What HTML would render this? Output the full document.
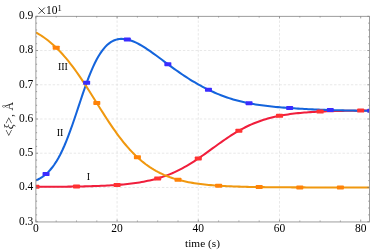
<!DOCTYPE html>
<html><head><meta charset="utf-8"><title>plot</title>
<style>html,body{margin:0;padding:0;background:#fff;}body{width:374px;height:252px;position:relative;overflow:hidden;font-family:"Liberation Serif",serif;}</style>
</head><body>
<svg width="374" height="252" viewBox="0 0 374 252" style="position:absolute;left:0;top:0;will-change:transform">
<g stroke="#dedede" stroke-width="0.7" stroke-dasharray="2.4,1.8" fill="none"><line x1="117.10" y1="16.3" x2="117.10" y2="221.7"/><line x1="198.30" y1="16.3" x2="198.30" y2="221.7"/><line x1="279.50" y1="16.3" x2="279.50" y2="221.7"/><line x1="35.9" y1="187.47" x2="369.4" y2="187.47"/><line x1="35.9" y1="153.23" x2="369.4" y2="153.23"/><line x1="35.9" y1="119.00" x2="369.4" y2="119.00"/><line x1="35.9" y1="84.77" x2="369.4" y2="84.77"/><line x1="35.9" y1="50.53" x2="369.4" y2="50.53"/></g>
<clipPath id="c"><rect x="35.9" y="16.3" width="333.5" height="205.39999999999998"/></clipPath>
<g clip-path="url(#c)">
<path d="M35.90,186.86 L37.93,186.85 L39.97,186.84 L42.00,186.83 L44.03,186.83 L46.07,186.82 L48.10,186.80 L50.13,186.79 L52.17,186.78 L54.20,186.77 L56.24,186.75 L58.27,186.73 L60.30,186.72 L62.34,186.70 L64.37,186.68 L66.40,186.65 L68.44,186.63 L70.47,186.61 L72.50,186.58 L74.54,186.55 L76.57,186.51 L78.60,186.48 L80.64,186.44 L82.67,186.40 L84.70,186.36 L86.74,186.31 L88.77,186.26 L90.81,186.20 L92.84,186.14 L94.87,186.08 L96.91,186.01 L98.94,185.93 L100.97,185.85 L103.01,185.77 L105.04,185.67 L107.07,185.57 L109.11,185.46 L111.14,185.35 L113.17,185.22 L115.21,185.08 L117.24,184.94 L119.28,184.78 L121.31,184.61 L123.34,184.43 L125.38,184.23 L127.41,184.02 L129.44,183.80 L131.48,183.55 L133.51,183.29 L135.54,183.01 L137.58,182.71 L139.61,182.39 L141.64,182.05 L143.68,181.68 L145.71,181.29 L147.74,180.87 L149.78,180.42 L151.81,179.95 L153.85,179.44 L155.88,178.90 L157.91,178.32 L159.95,177.71 L161.98,177.07 L164.01,176.38 L166.05,175.66 L168.08,174.89 L170.11,174.08 L172.15,173.24 L174.18,172.34 L176.21,171.41 L178.25,170.43 L180.28,169.40 L182.31,168.33 L184.35,167.22 L186.38,166.07 L188.42,164.87 L190.45,163.64 L192.48,162.36 L194.52,161.05 L196.55,159.71 L198.58,158.34 L200.62,156.94 L202.65,155.52 L204.68,154.07 L206.72,152.62 L208.75,151.14 L210.78,149.67 L212.82,148.19 L214.85,146.71 L216.88,145.23 L218.92,143.77 L220.95,142.32 L222.99,140.89 L225.02,139.48 L227.05,138.10 L229.09,136.74 L231.12,135.42 L233.15,134.13 L235.19,132.88 L237.22,131.67 L239.25,130.50 L241.29,129.37 L243.32,128.29 L245.35,127.25 L247.39,126.25 L249.42,125.30 L251.45,124.39 L253.49,123.52 L255.52,122.70 L257.56,121.92 L259.59,121.18 L261.62,120.48 L263.66,119.82 L265.69,119.19 L267.72,118.61 L269.76,118.05 L271.79,117.53 L273.82,117.04 L275.86,116.59 L277.89,116.16 L279.92,115.75 L281.96,115.38 L283.99,115.03 L286.02,114.70 L288.06,114.39 L290.09,114.10 L292.13,113.84 L294.16,113.59 L296.19,113.35 L298.23,113.14 L300.26,112.94 L302.29,112.75 L304.33,112.57 L306.36,112.41 L308.39,112.26 L310.43,112.12 L312.46,111.99 L314.49,111.87 L316.53,111.76 L318.56,111.66 L320.60,111.56 L322.63,111.47 L324.66,111.39 L326.70,111.31 L328.73,111.24 L330.76,111.17 L332.80,111.11 L334.83,111.05 L336.86,111.00 L338.90,110.95 L340.93,110.91 L342.96,110.87 L345.00,110.83 L347.03,110.79 L349.06,110.76 L351.10,110.73 L353.13,110.70 L355.17,110.67 L357.20,110.65 L359.23,110.62 L361.27,110.60 L363.30,110.58 L365.33,110.56 L367.37,110.55 L369.40,110.53" fill="none" stroke="#f01e3c" stroke-width="2.05" stroke-linejoin="round"/>
<path d="M35.90,180.42 L37.93,179.50 L39.97,178.42 L42.00,177.17 L44.03,175.72 L46.07,174.05 L48.10,172.15 L50.13,169.98 L52.17,167.52 L54.20,164.76 L56.24,161.67 L58.27,158.23 L60.30,154.44 L62.34,150.28 L64.37,145.76 L66.40,140.89 L68.44,135.70 L70.47,130.21 L72.50,124.47 L74.54,118.53 L76.57,112.46 L78.60,106.33 L80.64,100.20 L82.67,94.16 L84.70,88.27 L86.74,82.60 L88.77,77.20 L90.81,72.11 L92.84,67.38 L94.87,63.03 L96.91,59.07 L98.94,55.50 L100.97,52.33 L103.01,49.55 L105.04,47.14 L107.07,45.08 L109.11,43.35 L111.14,41.94 L113.17,40.82 L115.21,39.98 L117.24,39.38 L119.28,39.02 L121.31,38.87 L123.34,38.91 L125.38,39.13 L127.41,39.52 L129.44,40.05 L131.48,40.72 L133.51,41.50 L135.54,42.40 L137.58,43.40 L139.61,44.49 L141.64,45.65 L143.68,46.88 L145.71,48.18 L147.74,49.52 L149.78,50.91 L151.81,52.34 L153.85,53.79 L155.88,55.27 L157.91,56.77 L159.95,58.28 L161.98,59.80 L164.01,61.31 L166.05,62.83 L168.08,64.34 L170.11,65.84 L172.15,67.33 L174.18,68.80 L176.21,70.26 L178.25,71.69 L180.28,73.10 L182.31,74.49 L184.35,75.85 L186.38,77.18 L188.42,78.49 L190.45,79.76 L192.48,81.01 L194.52,82.23 L196.55,83.42 L198.58,84.57 L200.62,85.70 L202.65,86.79 L204.68,87.85 L206.72,88.89 L208.75,89.89 L210.78,90.85 L212.82,91.79 L214.85,92.69 L216.88,93.57 L218.92,94.41 L220.95,95.22 L222.99,96.00 L225.02,96.74 L227.05,97.46 L229.09,98.14 L231.12,98.79 L233.15,99.42 L235.19,100.01 L237.22,100.57 L239.25,101.11 L241.29,101.61 L243.32,102.09 L245.35,102.54 L247.39,102.97 L249.42,103.37 L251.45,103.75 L253.49,104.10 L255.52,104.44 L257.56,104.75 L259.59,105.05 L261.62,105.33 L263.66,105.60 L265.69,105.85 L267.72,106.09 L269.76,106.31 L271.79,106.53 L273.82,106.73 L275.86,106.92 L277.89,107.11 L279.92,107.29 L281.96,107.46 L283.99,107.62 L286.02,107.78 L288.06,107.93 L290.09,108.08 L292.13,108.22 L294.16,108.35 L296.19,108.48 L298.23,108.61 L300.26,108.73 L302.29,108.84 L304.33,108.96 L306.36,109.06 L308.39,109.17 L310.43,109.27 L312.46,109.36 L314.49,109.45 L316.53,109.54 L318.56,109.63 L320.60,109.71 L322.63,109.78 L324.66,109.86 L326.70,109.93 L328.73,109.99 L330.76,110.06 L332.80,110.12 L334.83,110.18 L336.86,110.23 L338.90,110.29 L340.93,110.34 L342.96,110.39 L345.00,110.43 L347.03,110.47 L349.06,110.52 L351.10,110.56 L353.13,110.59 L355.17,110.63 L357.20,110.66 L359.23,110.70 L361.27,110.73 L363.30,110.76 L365.33,110.79 L367.37,110.81 L369.40,110.84" fill="none" stroke="#1464dc" stroke-width="2.05" stroke-linejoin="round"/>
<path d="M35.90,32.35 L37.93,33.52 L39.97,34.76 L42.00,36.09 L44.03,37.49 L46.07,38.97 L48.10,40.53 L50.13,42.18 L52.17,43.93 L54.20,45.76 L56.24,47.68 L58.27,49.70 L60.30,51.81 L62.34,54.01 L64.37,56.31 L66.40,58.71 L68.44,61.19 L70.47,63.77 L72.50,66.43 L74.54,69.18 L76.57,72.00 L78.60,74.90 L80.64,77.87 L82.67,80.91 L84.70,83.99 L86.74,87.13 L88.77,90.31 L90.81,93.51 L92.84,96.74 L94.87,99.99 L96.91,103.24 L98.94,106.48 L100.97,109.71 L103.01,112.92 L105.04,116.09 L107.07,119.23 L109.11,122.31 L111.14,125.35 L113.17,128.31 L115.21,131.21 L117.24,134.04 L119.28,136.78 L121.31,139.44 L123.34,142.02 L125.38,144.50 L127.41,146.89 L129.44,149.19 L131.48,151.39 L133.51,153.50 L135.54,155.52 L137.58,157.44 L139.61,159.27 L141.64,161.00 L143.68,162.65 L145.71,164.22 L147.74,165.70 L149.78,167.10 L151.81,168.41 L153.85,169.66 L155.88,170.83 L157.91,171.93 L159.95,172.97 L161.98,173.94 L164.01,174.86 L166.05,175.71 L168.08,176.51 L170.11,177.27 L172.15,177.97 L174.18,178.62 L176.21,179.24 L178.25,179.81 L180.28,180.35 L182.31,180.84 L184.35,181.31 L186.38,181.74 L188.42,182.15 L190.45,182.52 L192.48,182.87 L194.52,183.20 L196.55,183.50 L198.58,183.79 L200.62,184.05 L202.65,184.29 L204.68,184.52 L206.72,184.73 L208.75,184.93 L210.78,185.11 L212.82,185.28 L214.85,185.44 L216.88,185.58 L218.92,185.72 L220.95,185.85 L222.99,185.96 L225.02,186.07 L227.05,186.17 L229.09,186.27 L231.12,186.35 L233.15,186.43 L235.19,186.51 L237.22,186.58 L239.25,186.64 L241.29,186.70 L243.32,186.76 L245.35,186.81 L247.39,186.86 L249.42,186.90 L251.45,186.94 L253.49,186.98 L255.52,187.02 L257.56,187.05 L259.59,187.08 L261.62,187.11 L263.66,187.13 L265.69,187.16 L267.72,187.18 L269.76,187.20 L271.79,187.22 L273.82,187.24 L275.86,187.25 L277.89,187.27 L279.92,187.28 L281.96,187.30 L283.99,187.31 L286.02,187.32 L288.06,187.33 L290.09,187.34 L292.13,187.35 L294.16,187.36 L296.19,187.37 L298.23,187.37 L300.26,187.38 L302.29,187.39 L304.33,187.39 L306.36,187.40 L308.39,187.40 L310.43,187.41 L312.46,187.41 L314.49,187.42 L316.53,187.42 L318.56,187.42 L320.60,187.43 L322.63,187.43 L324.66,187.43 L326.70,187.43 L328.73,187.44 L330.76,187.44 L332.80,187.44 L334.83,187.44 L336.86,187.44 L338.90,187.45 L340.93,187.45 L342.96,187.45 L345.00,187.45 L347.03,187.45 L349.06,187.45 L351.10,187.45 L353.13,187.45 L355.17,187.46 L357.20,187.46 L359.23,187.46 L361.27,187.46 L363.30,187.46 L365.33,187.46 L367.37,187.46 L369.40,187.46" fill="none" stroke="#f0980f" stroke-width="2.05" stroke-linejoin="round"/>
<rect x="52.70" y="45.65" width="7" height="4" rx="0.7" fill="#ff8208"/>
<rect x="93.30" y="101.07" width="7" height="4" rx="0.7" fill="#ff8208"/>
<rect x="133.90" y="155.27" width="7" height="4" rx="0.7" fill="#ff8208"/>
<rect x="174.50" y="177.74" width="7" height="4" rx="0.7" fill="#ff8208"/>
<rect x="215.10" y="183.70" width="7" height="4" rx="0.7" fill="#ff8208"/>
<rect x="255.70" y="185.07" width="7" height="4" rx="0.7" fill="#ff8208"/>
<rect x="296.30" y="185.38" width="7" height="4" rx="0.7" fill="#ff8208"/>
<rect x="336.90" y="185.45" width="7" height="4" rx="0.7" fill="#ff8208"/>
<rect x="42.55" y="172.07" width="7" height="4" rx="0.7" fill="#3a2cff"/>
<rect x="83.15" y="80.85" width="7" height="4" rx="0.7" fill="#3a2cff"/>
<rect x="123.75" y="37.49" width="7" height="4" rx="0.7" fill="#3a2cff"/>
<rect x="164.35" y="62.17" width="7" height="4" rx="0.7" fill="#3a2cff"/>
<rect x="204.95" y="87.74" width="7" height="4" rx="0.7" fill="#3a2cff"/>
<rect x="245.55" y="101.29" width="7" height="4" rx="0.7" fill="#3a2cff"/>
<rect x="286.15" y="106.04" width="7" height="4" rx="0.7" fill="#3a2cff"/>
<rect x="326.75" y="108.04" width="7" height="4" rx="0.7" fill="#3a2cff"/>
<rect x="367.35" y="108.84" width="7" height="4" rx="0.7" fill="#3a2cff"/>
<rect x="32.40" y="184.86" width="7" height="4" rx="0.7" fill="#ff3232"/>
<rect x="73.00" y="184.52" width="7" height="4" rx="0.7" fill="#ff3232"/>
<rect x="113.60" y="182.95" width="7" height="4" rx="0.7" fill="#ff3232"/>
<rect x="154.20" y="176.38" width="7" height="4" rx="0.7" fill="#ff3232"/>
<rect x="194.80" y="156.53" width="7" height="4" rx="0.7" fill="#ff3232"/>
<rect x="235.40" y="128.71" width="7" height="4" rx="0.7" fill="#ff3232"/>
<rect x="276.00" y="113.84" width="7" height="4" rx="0.7" fill="#ff3232"/>
<rect x="316.60" y="109.58" width="7" height="4" rx="0.7" fill="#ff3232"/>
<rect x="357.20" y="108.61" width="7" height="4" rx="0.7" fill="#ff3232"/>
</g>
<path d="M35.90,221.7v-2.1M35.90,16.3v2.1M56.20,221.7v-1.2M56.20,16.3v1.2M76.50,221.7v-1.2M76.50,16.3v1.2M96.80,221.7v-1.2M96.80,16.3v1.2M117.10,221.7v-2.1M117.10,16.3v2.1M137.40,221.7v-1.2M137.40,16.3v1.2M157.70,221.7v-1.2M157.70,16.3v1.2M178.00,221.7v-1.2M178.00,16.3v1.2M198.30,221.7v-2.1M198.30,16.3v2.1M218.60,221.7v-1.2M218.60,16.3v1.2M238.90,221.7v-1.2M238.90,16.3v1.2M259.20,221.7v-1.2M259.20,16.3v1.2M279.50,221.7v-2.1M279.50,16.3v2.1M299.80,221.7v-1.2M299.80,16.3v1.2M320.10,221.7v-1.2M320.10,16.3v1.2M340.40,221.7v-1.2M340.40,16.3v1.2M360.70,221.7v-2.1M360.70,16.3v2.1M35.9,221.70h2.1M369.4,221.70h-2.1M35.9,214.85h1.2M369.4,214.85h-1.2M35.9,208.01h1.2M369.4,208.01h-1.2M35.9,201.16h1.2M369.4,201.16h-1.2M35.9,194.31h1.2M369.4,194.31h-1.2M35.9,187.47h2.1M369.4,187.47h-2.1M35.9,180.62h1.2M369.4,180.62h-1.2M35.9,173.77h1.2M369.4,173.77h-1.2M35.9,166.93h1.2M369.4,166.93h-1.2M35.9,160.08h1.2M369.4,160.08h-1.2M35.9,153.23h2.1M369.4,153.23h-2.1M35.9,146.39h1.2M369.4,146.39h-1.2M35.9,139.54h1.2M369.4,139.54h-1.2M35.9,132.69h1.2M369.4,132.69h-1.2M35.9,125.85h1.2M369.4,125.85h-1.2M35.9,119.00h2.1M369.4,119.00h-2.1M35.9,112.15h1.2M369.4,112.15h-1.2M35.9,105.31h1.2M369.4,105.31h-1.2M35.9,98.46h1.2M369.4,98.46h-1.2M35.9,91.61h1.2M369.4,91.61h-1.2M35.9,84.77h2.1M369.4,84.77h-2.1M35.9,77.92h1.2M369.4,77.92h-1.2M35.9,71.07h1.2M369.4,71.07h-1.2M35.9,64.23h1.2M369.4,64.23h-1.2M35.9,57.38h1.2M369.4,57.38h-1.2M35.9,50.53h2.1M369.4,50.53h-2.1M35.9,43.69h1.2M369.4,43.69h-1.2M35.9,36.84h1.2M369.4,36.84h-1.2M35.9,29.99h1.2M369.4,29.99h-1.2M35.9,23.15h1.2M369.4,23.15h-1.2M35.9,16.30h2.1M369.4,16.30h-2.1" stroke="#777" stroke-width="0.7" fill="none"/>
<rect x="35.9" y="16.3" width="333.5" height="205.64999999999998" fill="none" stroke="#828282" stroke-width="0.78"/>
<g font-family="'Liberation Serif', serif" font-size="11.5" fill="#000"><text x="33.3" y="224.60" text-anchor="end">0.3</text><text x="33.3" y="190.37" text-anchor="end">0.4</text><text x="33.3" y="156.13" text-anchor="end">0.5</text><text x="33.3" y="121.90" text-anchor="end">0.6</text><text x="33.3" y="87.67" text-anchor="end">0.7</text><text x="33.3" y="53.43" text-anchor="end">0.8</text><text x="33.3" y="19.20" text-anchor="end">0.9</text><text x="35.90" y="231.8" text-anchor="middle">0</text><text x="117.10" y="231.8" text-anchor="middle">20</text><text x="198.30" y="231.8" text-anchor="middle">40</text><text x="279.50" y="231.8" text-anchor="middle">60</text><text x="360.70" y="231.8" text-anchor="middle">80</text><text x="202.5" y="247.2" text-anchor="middle" font-size="11.3">time (s)</text><path d="M38.6,7.6L44.8,13.8M44.8,7.6L38.6,13.8" stroke="#000" stroke-width="0.75" fill="none"/><text x="46" y="14.1" font-size="11.5">10<tspan font-size="8.5" dy="-3.4">1</tspan></text><text transform="translate(13.4,118.9) rotate(-90)" text-anchor="middle" font-size="12" letter-spacing="0.2" fill="#1a1a1a">&lt;<tspan font-style="italic" font-size="12">ξ</tspan>&gt;, Å</text><text x="88.3" y="179.5" text-anchor="middle" font-size="10">I</text><text x="60" y="136" text-anchor="middle" font-size="10">II</text><text x="62.9" y="69.5" text-anchor="middle" font-size="10">III</text></g>
</svg>
</body></html>
